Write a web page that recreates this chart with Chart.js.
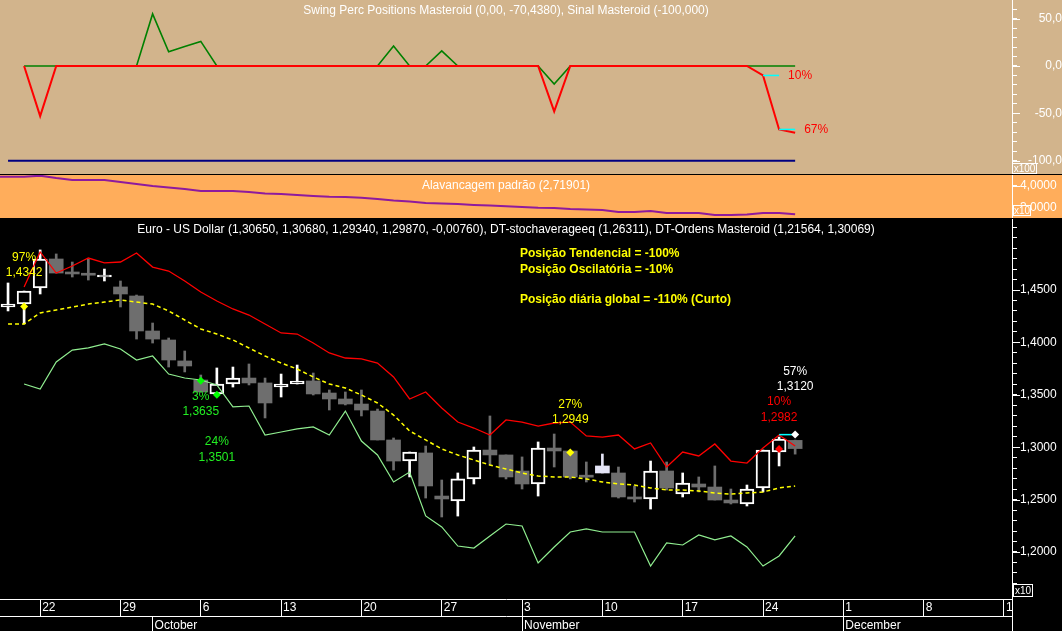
<!DOCTYPE html>
<html>
<head>
<meta charset="utf-8">
<script src="https://cdn.jsdelivr.net/npm/chart.js@4.4.1/dist/chart.umd.min.js"></script>
<style>
  body { margin: 0; background: #000; }
  #wrap { position: relative; width: 1062px; height: 631px; overflow: hidden; background: #000; }
  canvas { position: absolute; left: 0; }
</style>
</head>
<body>
<div id="wrap">
  <canvas id="swingChart" width="1062" height="174" style="top:0px"></canvas>
  <canvas id="levChart" width="1062" height="43" style="top:175px"></canvas>
  <canvas id="priceChart" width="1062" height="412" style="top:219px"></canvas>
</div>
<script>
// daily EUR/USD bars, 18 Sep .. 26 Nov (index 0..49)
var openPrice  = [1.4338, 1.4366, 1.4519, 1.4796, 1.4672, 1.4645, 1.4624, 1.4529, 1.4443, 1.4109,
                  1.4023, 1.3823, 1.3641, 1.3508, 1.3603, 1.3660, 1.3613, 1.3574, 1.3603, 1.3632,
                  1.3517, 1.3460, 1.3412, 1.3345, 1.3069, 1.2868, 1.2945, 1.2534, 1.2487, 1.2697,
                  1.2973, 1.2926, 1.2773, 1.2649, 1.2992, 1.2964, 1.2718, 1.2754, 1.2754, 1.2525,
                  1.2506, 1.2773, 1.2553, 1.2649, 1.2620, 1.2496, 1.2458, 1.2611, 1.2954, 1.3065];
var highPrice  = [1.4567, 1.4490, 1.4882, 1.4844, 1.4767, 1.4796, 1.4700, 1.4586, 1.4452, 1.4185,
                  1.4042, 1.3918, 1.3689, 1.3756, 1.3765, 1.3794, 1.3660, 1.3698, 1.3784, 1.3708,
                  1.3546, 1.3527, 1.3546, 1.3364, 1.3088, 1.2954, 1.3011, 1.2687, 1.2754, 1.3002,
                  1.3298, 1.2926, 1.2907, 1.3050, 1.3126, 1.2964, 1.2859, 1.2935, 1.2811, 1.2630,
                  1.2868, 1.2859, 1.2754, 1.2716, 1.2821, 1.2601, 1.2639, 1.2973, 1.3097, 1.3068];
var lowPrice   = [1.4300, 1.4176, 1.4462, 1.4662, 1.4624, 1.4595, 1.4586, 1.4338, 1.4032, 1.3994,
                  1.3765, 1.3718, 1.3527, 1.3508, 1.3574, 1.3594, 1.3279, 1.3479, 1.3603, 1.3498,
                  1.3355, 1.3403, 1.3298, 1.3069, 1.2782, 1.2716, 1.2515, 1.2334, 1.2343, 1.2649,
                  1.2830, 1.2697, 1.2601, 1.2534, 1.2811, 1.2697, 1.2668, 1.2754, 1.2515, 1.2477,
                  1.2410, 1.2592, 1.2525, 1.2573, 1.2496, 1.2458, 1.2439, 1.2573, 1.2821, 1.2934];
var closePrice = [1.4366, 1.4490, 1.4796, 1.4662, 1.4653, 1.4641, 1.4634, 1.4462, 1.4109, 1.4032,
                  1.3832, 1.3775, 1.3527, 1.3603, 1.3660, 1.3613, 1.3422, 1.3603, 1.3632, 1.3508,
                  1.3460, 1.3412, 1.3355, 1.3069, 1.2868, 1.2954, 1.2630, 1.2506, 1.2697, 1.2973,
                  1.2926, 1.2716, 1.2649, 1.2992, 1.2964, 1.2716, 1.2714, 1.2821, 1.2525, 1.2506,
                  1.2773, 1.2611, 1.2658, 1.2620, 1.2496, 1.2468, 1.2601, 1.2973, 1.3078, 1.2987];

// DT-Ordens Masteroid bands and DT-stochaverageeq
var upperBand = [null, 1.4529, 1.4863, 1.4662, 1.4729, 1.4805, 1.4758, 1.4767, 1.4853, 1.4719,
                 1.4681, 1.4586, 1.4481, 1.4395, 1.4319, 1.4261, 1.4176, 1.4090, 1.4080, 1.3994,
                 1.3899, 1.3851, 1.3842, 1.3803, 1.3670, 1.3460, 1.3527, 1.3374, 1.3240, 1.3183,
                 1.3116, 1.3260, 1.3240, 1.3202, 1.3231, 1.3240, 1.3107, 1.3097, 1.3116, 1.2983,
                 1.3040, 1.2811, 1.2954, 1.2916, 1.3031, 1.2868, 1.2849, 1.2992, 1.3116, 1.3011];
var stochAvg  = [1.4176, 1.4176, 1.4281, 1.4309, 1.4338, 1.4366, 1.4385, 1.4405, 1.4385, 1.4366,
                 1.4300, 1.4214, 1.4128, 1.4080, 1.4023, 1.3947, 1.3870, 1.3803, 1.3746, 1.3670,
                 1.3603, 1.3565, 1.3498, 1.3422, 1.3307, 1.3155, 1.3069, 1.2983, 1.2926, 1.2878,
                 1.2830, 1.2792, 1.2754, 1.2725, 1.2716, 1.2716, 1.2697, 1.2668, 1.2649, 1.2639,
                 1.2611, 1.2592, 1.2592, 1.2582, 1.2563, 1.2553, 1.2563, 1.2573, 1.2611, 1.2630];
var lowerBand = [null, 1.3603, 1.3555, 1.3813, 1.3927, 1.3947, 1.3985, 1.3937, 1.3832, 1.3870,
                 1.3698, 1.3660, 1.3641, 1.3594, 1.3384, 1.3393, 1.3116, 1.3145, 1.3174, 1.3193,
                 1.3116, 1.3345, 1.3059, 1.2926, 1.2668, 1.2763, 1.2344, 1.2239, 1.2057, 1.2038,
                 1.2153, 1.2267, 1.2248, 1.1895, 1.2048, 1.2191, 1.2220, 1.2191, 1.2191, 1.2191,
                 1.1866, 1.2086, 1.2067, 1.2162, 1.2115, 1.2153, 1.2048, 1.1866, 1.1962, 1.2153];

// order markers
var markerIdx   = [1, 12, 13, 35, 48, 49];
var markerPrice = [1.4342, 1.3635, 1.3501, 1.2949, 1.2982, 1.3120];
var markerPct   = ['97%', '3%', '24%', '27%', '10%', '57%'];
var stopIdx     = [48, 49];
var stopPrice   = [1.3120, 1.3120];

// Swing Perc Positions panel (index 0..49)
var swingTrend = [null, 0, -53, 0, 0, 0, 0, 0, 0, 0,
                  0, 0, 0, 0, 0, 0, 0, 0, 0, 0,
                  0, 0, 0, 0, 0, 0, 0, 0, 0, 0,
                  0, 0, 0, 0, -48, 0, 0, 0, 0, 0,
                  0, 0, 0, 0, 0, 0, 0, -10, -67, -70.438];
var swingOsc   = [null, 0, 0, 0, 0, 0, 0, 0, 0, 55,
                  15, 20.6, 26, 0, 0, 0, 0, 0, 0, 0,
                  0, 0, 0, 0, 21, 0, 0, 16, 0, 0,
                  0, 0, 0, 0, -19, 0, 0, 0, 0, 0,
                  0, 0, 0, 0, 0, 0, 0, 0, 0, 0];
var signalIdx   = [0, 49];
var signalLevel = [-100, -100];
var swingStopIdx = [[47, 48], [48, 49]];
var swingStopVal = [-10, -67];
var swingStopPct = ['10%', '67%'];

// Alavancagem padrao, index -1..49
var leverage = [4.42, 4.42, 4.42, 4.47, 4.36, 4.27, 4.27, 4.27, 4.18, 4.09,
                4.00, 3.93, 3.86, 3.77, 3.77, 3.77, 3.73, 3.66, 3.64, 3.59,
                3.55, 3.51, 3.50, 3.47, 3.41, 3.34, 3.29, 3.23, 3.20, 3.18,
                3.14, 3.11, 3.08, 3.05, 3.01, 3.00, 2.95, 2.93, 2.91, 2.82,
                2.82, 2.86, 2.77, 2.77, 2.77, 2.68, 2.68, 2.70, 2.77, 2.77, 2.719];

// axis ticks
var dayTickIdx   = [2, 7, 12, 17, 22, 27, 32, 37, 42, 47, 52, 57, 62, 62.5];
var dayLabels    = ['22', '29', '6', '13', '20', '27', '3', '10', '17', '24', '1', '8', '15', ''];
var monthTickIdx = [9, 32, 52, 62.5];
var monthLabels  = ['October', 'November', 'December', ''];
var priceLabels  = [1.20, 1.25, 1.30, 1.35, 1.40, 1.45];
var swingLabels  = [50, 0, -50, -100];
var levLabels    = [3, 4];

var mainTitle  = 'Euro - US Dollar (1,30650, 1,30680, 1,29340, 1,29870, -0,00760), DT-stochaverageeq (1,26311), DT-Ordens Masteroid (1,21564, 1,30069)';
var swingTitle = 'Swing Perc Positions Masteroid (0,00, -70,4380), Sinal Masteroid (-100,000)';
var levTitle   = 'Alavancagem padrão (2,71901)';
var infoLines  = ['Posição Tendencial = -100%', 'Posição Oscilatória = -10%', 'Posição diária global = -110% (Curto)'];

// ---- styling / layout ----
var FAMILY = '"Liberation Sans", Arial, sans-serif';
var FONT = '12px ' + FAMILY;
var FONT_B = 'bold 12px ' + FAMILY;
var TAN = '#D2B48C';
var ORANGE = '#FFAD5B';
var markerColor = ['#FFFF00', '#00FF00', '#00FF00', '#FFFF00', '#FF0000', '#FFFFFF'];
var markerTextColor = ['#FFFF00', '#22EE22', '#22EE22', '#FFFF00', '#FF0000', '#FFFFFF'];
var markerTextDy = [-49, 16, 47, -48, -47, -63];
var infoY = [35, 51, 81];
var highlightBar = 37;
var X_MIN = -0.5, X_MAX = 62.5;

function pts(arr, start) {
    start = start || 0;
    return arr.map((v, i) => ({ x: i + start, y: v }));
}

function fmt(v, d) {
    return v.toFixed(d).replace('.', ',');
}

function isIn(list, v) {
    return list.some(p => Math.abs(p - v) < 1e-6);
}

function txt(c, s, x, y, color, font, align) {
    c.fillStyle = color;
    c.font = font || FONT;
    c.textAlign = align || 'center';
    c.textBaseline = 'middle';
    c.fillText(s, x, y);
}

function unitBox(c, x, y, w, h, label, bg) {
    c.fillStyle = bg;
    c.fillRect(x, y, w, h);
    c.strokeStyle = '#fff';
    c.lineWidth = 1;
    c.strokeRect(x + 0.5, y + 0.5, w - 1, h - 1);
    txt(c, label, x + w / 2, y + h / 2 + 0.5, '#fff', '10px ' + FAMILY);
}

// longer tick marks next to the labelled values
function majorTicks(c, chart, labels) {
    const s = chart.scales.y;
    c.strokeStyle = '#fff';
    c.lineWidth = 1;
    labels.forEach(v => {
        const y = Math.round(s.getPixelForValue(v)) + 0.5;
        c.beginPath();
        c.moveTo(s.left, y);
        c.lineTo(s.left + 8, y);
        c.stroke();
    });
}

function bgPlugin(color) {
    return {
        id: 'bg',
        beforeDraw(chart) {
            const c = chart.ctx;
            c.save();
            c.fillStyle = color;
            c.fillRect(0, 0, chart.width, chart.height);
            c.restore();
        }
    };
}

function rightAxis(min, max, tickValues, labels, decimals, extra) {
    return Object.assign({
        type: 'linear', position: 'right', min: min, max: max,
        afterBuildTicks: s => { s.ticks = tickValues.map(v => ({ value: v })); },
        afterFit: s => { s.width = 50; s.paddingTop = 0; s.paddingBottom = 0; },
        border: { color: '#fff' },
        grid: { drawOnChartArea: false, color: '#fff', tickLength: 5 },
        ticks: {
            autoSkip: false, color: '#fff', padding: 3,
            font: { family: FAMILY, size: 12 },
            callback: v => isIn(labels, v) ? fmt(v, decimals) : ''
        }
    }, extra || {});
}

var hiddenX = { type: 'linear', display: false, min: X_MIN, max: X_MAX };

var commonOpts = {
    responsive: false,
    maintainAspectRatio: false,
    animation: false,
    events: [],
    layout: { autoPadding: false, padding: 0 },
    plugins: { legend: { display: false }, tooltip: { enabled: false }, title: { display: false } },
    elements: { point: { radius: 0 }, line: { tension: 0 } }
};

// ---------- Swing Perc Positions ----------
var swingTicks = [];
for (var t = -110; t <= 60; t += 10) swingTicks.push(t);

new Chart(document.getElementById('swingChart'), {
    type: 'line',
    data: {
        datasets: [
            { data: signalIdx.map((x, k) => ({ x: x, y: signalLevel[k] })), borderColor: '#000080', borderWidth: 2, order: 5 },
            { data: pts(swingOsc), borderColor: '#008000', borderWidth: 1.6, order: 4 },
            { data: pts(swingTrend), borderColor: '#FF0000', borderWidth: 2, order: 3 },
            { data: swingStopIdx[0].map(x => ({ x: x, y: swingStopVal[0] })), borderColor: '#00FFFF', borderWidth: 1.5, order: 2 },
            { data: swingStopIdx[1].map(x => ({ x: x, y: swingStopVal[1] })), borderColor: '#00FFFF', borderWidth: 1.5, order: 1 }
        ]
    },
    options: Object.assign({}, commonOpts, {
        scales: {
            x: hiddenX,
            y: rightAxis(-114.1, 69.7, swingTicks, swingLabels, 1, {
                ticks: {
                    autoSkip: false, color: '#fff', padding: 5, crossAlign: 'far',
                    font: { family: FAMILY, size: 12 },
                    callback: v => isIn(swingLabels, v) ? fmt(v, 1) : ''
                }
            })
        }
    }),
    plugins: [bgPlugin(TAN), {
        id: 'swingText',
        afterDraw(chart) {
            const c = chart.ctx;
            c.save();
            txt(c, swingTitle, (chart.chartArea.left + chart.chartArea.right) / 2, 11, '#fff');
            [3, 4].forEach((ds, k) => {
                const meta = chart.getDatasetMeta(ds);
                const p = meta.data[meta.data.length - 1];
                txt(c, swingStopPct[k], p.x + 9, p.y, '#FF0000', FONT, 'left');
            });
            majorTicks(c, chart, swingLabels);
            unitBox(c, 1012, 163, 25, 11, 'x100', TAN);
            c.restore();
        }
    }]
});

// ---------- Alavancagem ----------
new Chart(document.getElementById('levChart'), {
    type: 'line',
    data: {
        datasets: [{ data: pts(leverage, -1), borderColor: '#8E1A9E', borderWidth: 2 }]
    },
    options: Object.assign({}, commonOpts, {
        scales: {
            x: hiddenX,
            y: rightAxis(2.545, 4.5, levLabels, levLabels, 4)
        }
    }),
    plugins: [bgPlugin(ORANGE), {
        id: 'levText',
        afterDraw(chart) {
            const c = chart.ctx;
            c.save();
            txt(c, levTitle, (chart.chartArea.left + chart.chartArea.right) / 2, 11, '#fff');
            majorTicks(c, chart, levLabels);
            unitBox(c, 1013, 30, 18, 11, 'x10', ORANGE);
            c.restore();
        }
    }]
});

// ---------- Price ----------
function candleColor(i) {
    if (i === highlightBar) return { fill: '#E4E4F6', line: '#E4E4F6' };
    if (closePrice[i] >= openPrice[i]) return { fill: '#000000', line: '#FFFFFF' };
    return { fill: '#6E6E6E', line: '#6E6E6E' };
}

var priceTicks = [];
for (var k = 116; k <= 151; k++) priceTicks.push(k / 100);

var dayAxis = {
    type: 'linear', position: 'bottom', weight: 0, min: X_MIN, max: X_MAX, offset: false,
    afterBuildTicks: s => { s.ticks = dayTickIdx.map(v => ({ value: v })); },
    afterFit: s => { s.height = 17; s.paddingLeft = 0; s.paddingRight = 0; },
    border: { color: '#fff' },
    grid: { drawOnChartArea: false, color: '#fff', tickLength: 17, offset: false },
    ticks: {
        autoSkip: false, maxRotation: 0, minRotation: 0, align: 'start', labelOffset: 2, padding: -16,
        color: '#fff', font: { family: FAMILY, size: 12 },
        callback: (v, i) => dayLabels[i]
    }
};
var monthAxis = {
    type: 'linear', position: 'bottom', weight: 1, min: X_MIN, max: X_MAX, offset: false,
    afterBuildTicks: s => { s.ticks = monthTickIdx.map(v => ({ value: v })); },
    afterFit: s => { s.height = 15; s.paddingLeft = 0; s.paddingRight = 0; },
    border: { color: '#fff' },
    grid: { drawOnChartArea: false, color: '#fff', tickLength: 15, offset: false },
    ticks: {
        autoSkip: false, maxRotation: 0, minRotation: 0, align: 'start', labelOffset: 2, padding: -13,
        color: '#fff', font: { family: FAMILY, size: 12 },
        callback: (v, i) => monthLabels[i]
    }
};

new Chart(document.getElementById('priceChart'), {
    type: 'line',
    data: {
        datasets: [
            // wicks
            {
                type: 'bar', grouped: false, barThickness: 2, borderWidth: 0, order: 7,
                data: lowPrice.map((l, i) => ({ x: i, y: [l, highPrice[i]] })),
                backgroundColor: ctx => candleColor(ctx.dataIndex).line
            },
            // bodies
            {
                type: 'bar', grouped: false, barThickness: 14, minBarLength: 2, borderSkipped: false, order: 6,
                data: openPrice.map((o, i) => ({ x: i, y: [o, closePrice[i]] })),
                backgroundColor: ctx => candleColor(ctx.dataIndex).fill,
                borderColor: ctx => candleColor(ctx.dataIndex).line,
                borderWidth: ctx => (closePrice[ctx.dataIndex] >= openPrice[ctx.dataIndex] && ctx.dataIndex !== highlightBar) ? 2 : 0
            },
            { data: pts(lowerBand), borderColor: '#90EE90', borderWidth: 1.2, order: 5 },
            { data: pts(stochAvg), borderColor: '#FFFF00', borderWidth: 1.5, borderDash: [4, 3], order: 4 },
            { data: pts(upperBand), borderColor: '#FF0000', borderWidth: 1.3, order: 3 },
            { data: stopIdx.map((x, j) => ({ x: x, y: stopPrice[j] })), borderColor: '#00FFFF', borderWidth: 1.5, order: 2 },
            {
                data: markerIdx.map((x, j) => ({ x: x, y: markerPrice[j] })), showLine: false, order: 1,
                pointStyle: 'rectRot', pointRadius: 4, pointBorderWidth: 0,
                pointBackgroundColor: markerColor, pointBorderColor: markerColor
            }
        ]
    },
    options: Object.assign({}, commonOpts, {
        scales: {
            x: dayAxis,
            x2: monthAxis,
            y: rightAxis(1.15515, 1.51775, priceTicks, priceLabels, 4)
        }
    }),
    plugins: [bgPlugin('#000'), {
        id: 'priceText',
        afterDraw(chart) {
            const c = chart.ctx;
            const area = chart.chartArea;
            c.save();
            txt(c, mainTitle, (area.left + area.right) / 2, 11, '#fff');
            infoLines.forEach((s, j) => txt(c, s, 520, infoY[j], '#FFFF00', FONT_B, 'left'));
            const marks = chart.getDatasetMeta(6).data;
            marks.forEach((p, j) => {
                txt(c, markerPct[j], p.x, p.y + markerTextDy[j], markerTextColor[j]);
                txt(c, fmt(markerPrice[j], 4), p.x, p.y + markerTextDy[j] + 15.5, markerTextColor[j]);
            });
            majorTicks(c, chart, priceLabels);
            // the date rows end at the price axis
            c.fillStyle = '#000';
            c.fillRect(area.right + 1, area.bottom + 1, chart.width, chart.height);
            unitBox(c, 1013, 365, 20, 13, 'x10', '#000');
            c.restore();
        }
    }]
});
</script>
</body>
</html>
